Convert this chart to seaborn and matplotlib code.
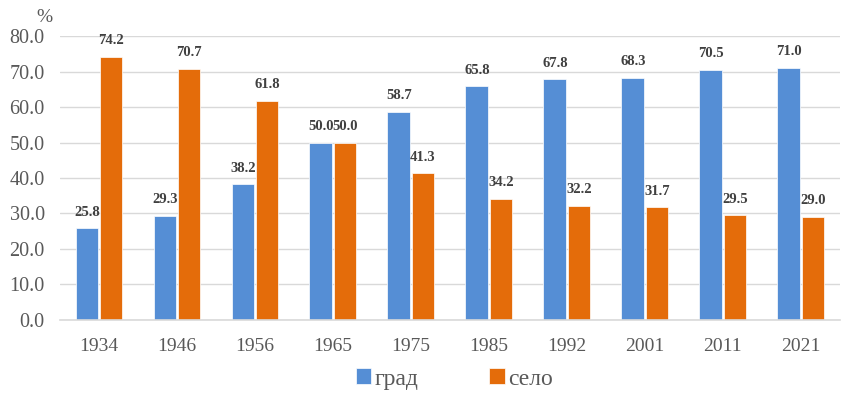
import seaborn as sns
import matplotlib.pyplot as plt
import pandas as pd

godini = ["1934", "1946", "1956", "1965", "1975", "1985", "1992", "2001", "2011", "2021"]
grad = [25.8, 29.3, 38.2, 50.0, 58.7, 65.8, 67.8, 68.3, 70.5, 71.0]
selo = [74.2, 70.7, 61.8, 50.0, 41.3, 34.2, 32.2, 31.7, 29.5, 29.0]

data = pd.DataFrame({
    "godina": godini * 2,
    "vrednost": grad + selo,
    "tip": ["град"] * len(godini) + ["село"] * len(godini),
})

sns.set_style("white")
plt.rcParams["font.family"] = ["Liberation Serif", "DejaVu Serif"]

fig = plt.figure(figsize=(8.57, 3.96), dpi=100)
ax = fig.add_axes([0.070, 0.192, 0.910, 0.717])

sns.barplot(
    data=data, x="godina", y="vrednost", hue="tip",
    palette=["#558ED5", "#E46C0A"], saturation=1, width=0.62, gap=0.06,
    edgecolor="white", linewidth=0.5, ax=ax, legend=True
)

# Etiquetas encima de cada barra
for cont in ax.containers:
    ax.bar_label(cont, fmt="%.1f", padding=7, fontsize=10.5,
                 fontweight="bold", color="#404040")

ax.set_ylim(0, 80)
ax.set_yticks(range(0, 81, 10))
ax.set_yticklabels([f"{v:.1f}" for v in range(0, 81, 10)])
ax.set_xlim(-0.5, len(godini) - 0.5)
ax.set_xlabel("")
ax.set_ylabel("")
ax.yaxis.grid(True, color="#D9D9D9", linewidth=1)
ax.set_axisbelow(True)
for s in ["top", "right", "left"]:
    ax.spines[s].set_visible(False)
ax.spines["bottom"].set_color("#D9D9D9")
ax.spines["bottom"].set_linewidth(1.2)
ax.tick_params(axis="both", length=0, labelcolor="#595959")
ax.tick_params(axis="x", pad=13, labelsize=14)
ax.tick_params(axis="y", pad=11, labelsize=14.5)

fig.text(0.052, 0.955, "%", fontsize=14, color="#595959", ha="center", va="center")

handles, labels = ax.get_legend_handles_labels()
ax.get_legend().remove()
fig.legend(handles, labels, loc="center", bbox_to_anchor=(0.53, 0.043), ncol=2,
           frameon=False, fontsize=17, handlelength=0.65, handleheight=0.65,
           handletextpad=0.15, columnspacing=3.0, labelcolor="#595959")

fig.savefig("out.png", dpi=100)
